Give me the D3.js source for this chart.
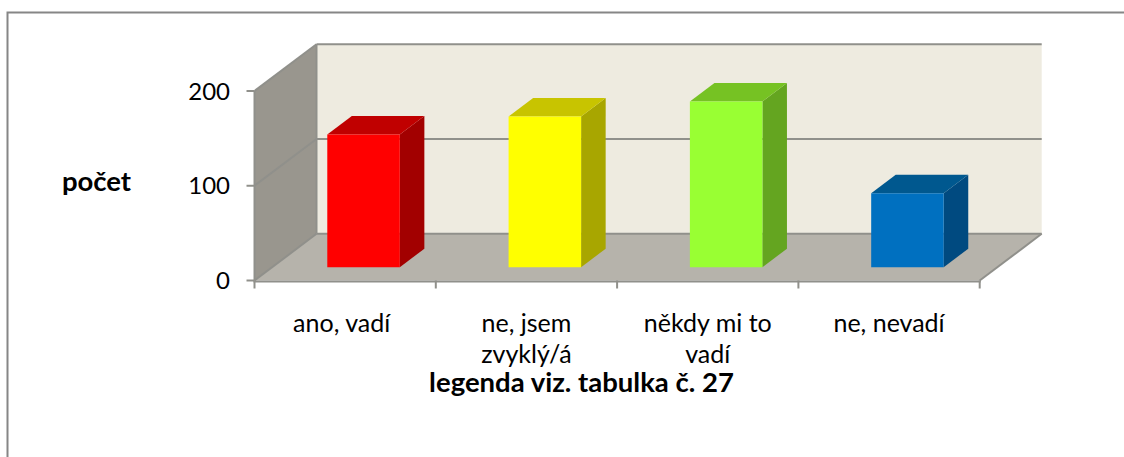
<!DOCTYPE html>
<html><head><meta charset="utf-8">
<script src="https://cdn.jsdelivr.net/npm/d3@7/dist/d3.min.js"></script>
<style>html,body{margin:0;padding:0;background:#fff;overflow:hidden}svg{display:block}text{font-family:Lato,"Open Sans",sans-serif;fill:#000}</style>
</head><body><svg id="c" width="1124" height="457"></svg>
<script>
const categories = [["ano, vadí"],["ne, jsem","zvyklý/á"],["někdy mi to","vadí"],["ne, nevadí"]];
const values = [140, 159, 175, 78];
const frontColors = ["#ff0000","#ffff00","#99ff33","#0070c0"];
const topColors = ["#c00000","#c8c400","#76c223","#00588f"];
const sideColors = ["#a20000","#a8a600","#64a520","#004a80"];
const yTicks = [0,100,200];
const axisTitle = "počet";
const note = "legenda viz. tabulka č. 27";

const svg = d3.select("#c");
const grid = "#90908b";
const y = d3.scaleLinear().domain([0,200]).range([280.5,91]);
const x = d3.scaleLinear().domain([0,4]).range([254.5,979.7]);
// depth: 0 = front edge of floor, 1 = back wall
const dx = d3.scaleLinear().domain([0,1]).range([0,62]);
const dy = d3.scaleLinear().domain([0,1]).range([0,-46.7]);
const P = (xv,yv,d)=>[x(xv)+dx(d), y(yv)+dy(d)];
const poly = (pts,fill)=>svg.append("polygon").attr("points",pts.map(p=>p.join(",")).join(" ")).attr("fill",fill);
const line = (a,b,w)=>svg.append("line").attr("x1",a[0]).attr("y1",a[1]).attr("x2",b[0]).attr("y2",b[1]).attr("stroke",grid).attr("stroke-width",w||2);

// outer frame (runs off the picture at right and bottom)
svg.append("path").attr("d","M7.5,457V12.5H1124").attr("fill","none").attr("stroke","#868686").attr("stroke-width",2);

// walls & floor
poly([P(0,0,0),P(0,200,0),P(0,200,1),P(0,0,1)],"#99968e");
poly([P(0,0,1),P(0,200,1),P(4,200,1),P(4,0,1)],"#eeebe0");
poly([P(0,0,0),P(0,0,1),P(4,0,1),P(4,0,0)],"#b6b3ab");

// gridlines
yTicks.forEach(t=>{
  line(P(0,t,0),P(0,t,1),2);
  line(P(0,t,1),P(4,t,1),2);
  line([x(0)-8,y(t)],[x(0),y(t)],2);
});
line(P(0,0,0),P(0,200,0),2);
line(P(0,200,1),P(0,0,1),2);
line(P(4,0,0),P(4,0,1),2);
line([x(0)-1,y(0)+1],[x(4)+1,y(0)+1],2);
d3.range(5).forEach(i=>line([x(i),y(0)],[x(i),y(0)+8],2));

// bars
const band = d3.scaleBand().domain(d3.range(4)).range([0.004,4.004]).paddingInner(0.6).paddingOuter(0.3);
const d0 = 0.285, d1 = 0.681;
values.forEach((v,i)=>{
  const a = band(i), b = a + band.bandwidth();
  poly([P(b,0,d0),P(b,v,d0),P(b,v,d1),P(b,0,d1)],sideColors[i]);
  poly([P(a,v,d0),P(a,v,d1),P(b,v,d1),P(b,v,d0)],topColors[i]);
  poly([P(a,0,d0),P(a,v,d0),P(b,v,d0),P(b,0,d0)],frontColors[i]);
});

// tick labels
yTicks.forEach(t=>svg.append("text").attr("x",230).attr("y",y(t)+8.5).attr("text-anchor","end").attr("font-size",24).text(t));
categories.forEach((c,i)=>{
  c.forEach((s,j)=>svg.append("text").attr("x",x(i+0.5)-(i===0?3.5:0)).attr("y",331.5+j*31.5).attr("text-anchor","middle").attr("font-size",25).text(s));
});
svg.append("text").attr("x",96.5).attr("y",191).attr("text-anchor","middle").attr("font-size",27.5).attr("font-weight",700).text(axisTitle);
svg.append("text").attr("x",581.5).attr("y",392).attr("text-anchor","middle").attr("font-size",27.5).attr("font-weight",700).text(note);
</script></body></html>
